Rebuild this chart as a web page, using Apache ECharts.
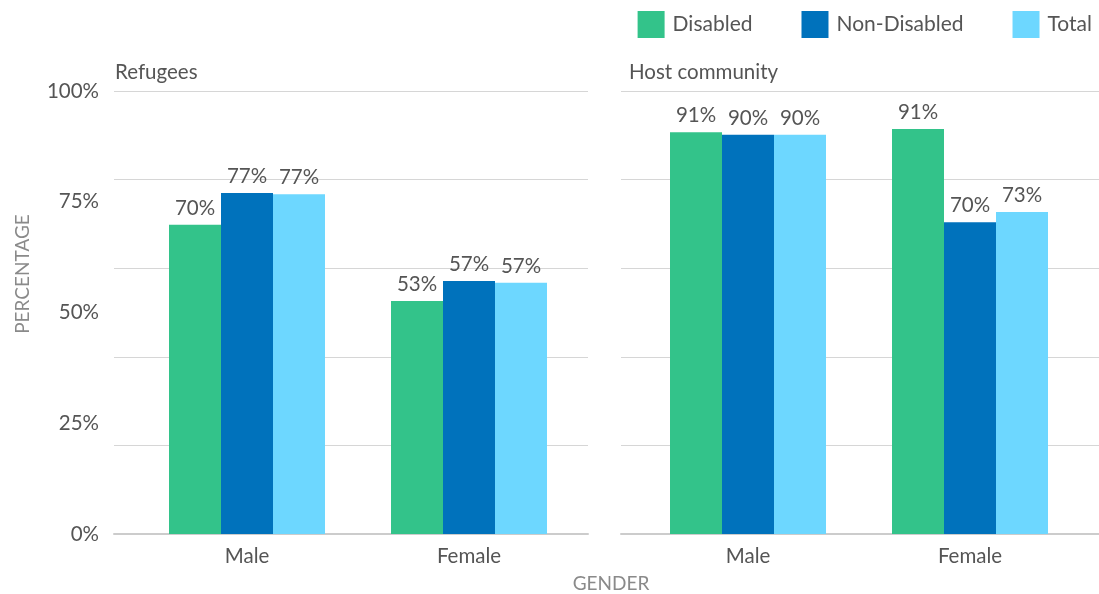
<!DOCTYPE html>
<html>
<head>
<meta charset="utf-8">
<script src="https://cdn.jsdelivr.net/npm/echarts@6/dist/echarts.min.js"></script>
<style>
  html, body { margin: 0; padding: 0; background: #fff; }
  #chart { width: 1099px; height: 594px; }
</style>
</head>
<body>
<div id="chart"></div>
<script>
// Share of people by gender and disability status, two population groups
const categories = ['Male', 'Female'];
const seriesNames = ['Disabled', 'Non-Disabled', 'Total'];
const refugeesDisabled = [69.8, 52.6];
const refugeesNonDisabled = [77.0, 57.1];
const refugeesTotal = [76.7, 56.7];
const hostDisabled = [90.7, 91.4];
const hostNonDisabled = [90.1, 70.4];
const hostTotal = [90.1, 72.7];
const panelTitles = ['Refugees', 'Host community'];
const yLabelStep = 25;
const gridStep = 20;

const colors = ['#33C38A', '#0072BC', '#6DD7FF'];
const FONT = 'Lato, "Noto Sans", sans-serif';
const TEXT = '#555555';
const FS = 20.5;

const chart = echarts.init(document.getElementById('chart'), null, { renderer: 'canvas' });

const plotTop = 91, plotBottom = 60;

function bar(name, data, xi, yi, color) {
  return {
    type: 'bar', name, data, xAxisIndex: xi, yAxisIndex: yi,
    barWidth: 52, barGap: '0%',
    itemStyle: { color },
    label: {
      show: true, position: 'top', distance: 6,
      formatter: p => Math.round(p.value) + '%',
      color: TEXT, fontFamily: FONT, fontSize: FS
    }
  };
}

const hiddenCat = gi => ({
  type: 'category', gridIndex: gi, data: categories,
  axisLabel: { show: false }, axisTick: { show: false },
  axisLine: { show: true, lineStyle: { color: '#cccccc', width: 2 } },
  splitLine: { show: false }
});
const barCat = gi => ({
  type: 'category', gridIndex: gi, data: categories,
  axisTick: { show: false }, axisLine: { show: false },
  axisLabel: { color: TEXT, fontFamily: FONT, fontSize: FS, margin: 12 }
});
const splitY = gi => ({
  type: 'value', gridIndex: gi, min: 0, max: 100, interval: gridStep, position: 'left',
  axisLabel: { show: false }, axisLine: { show: false }, axisTick: { show: false },
  splitLine: { show: true, lineStyle: { color: '#d6d6d6', width: 1 } }
});
const hiddenY = gi => ({ type: 'value', gridIndex: gi, min: 0, max: 100, show: false });

const option = {
  backgroundColor: '#ffffff',
  animation: false,
  textStyle: { fontFamily: FONT },
  legend: {
    data: seriesNames,
    right: 2, top: 6,
    itemWidth: 27, itemHeight: 27, itemGap: 49,
    icon: 'rect',
    textStyle: { color: TEXT, fontFamily: FONT, fontSize: 21, padding: [0, 0, 0, 3] }
  },
  title: [
    { text: panelTitles[0], left: 110, top: 57, textStyle: { color: TEXT, fontFamily: FONT, fontSize: FS, fontWeight: 'normal' } },
    { text: panelTitles[1], left: 624, top: 57, textStyle: { color: TEXT, fontFamily: FONT, fontSize: FS, fontWeight: 'normal' } }
  ],
  graphic: [
    {
      type: 'text', x: 611, y: 584,
      style: { text: 'GENDER', fill: '#8a8a8a', font: '19px ' + FONT, align: 'center', verticalAlign: 'middle' }
    },
    {
      type: 'text', x: 23, y: 274, rotation: Math.PI / 2,
      style: { text: 'PERCENTAGE', fill: '#8a8a8a', font: '19px ' + FONT, align: 'center', verticalAlign: 'middle' }
    }
  ],
  grid: [
    { left: 114, width: 474, top: plotTop, bottom: plotBottom },
    { left: 136, width: 444, top: plotTop, bottom: plotBottom },
    { left: 621, width: 478, top: plotTop, bottom: plotBottom },
    { left: 637, width: 444, top: plotTop, bottom: plotBottom }
  ],
  xAxis: [hiddenCat(0), barCat(1), hiddenCat(2), barCat(3)],
  yAxis: [
    splitY(0),
    {
      type: 'value', gridIndex: 0, min: 0, max: 100, interval: yLabelStep, position: 'left',
      axisLine: { show: false }, axisTick: { show: false }, splitLine: { show: false },
      axisLabel: { color: TEXT, fontFamily: FONT, fontSize: FS, margin: 15, formatter: v => v + '%' }
    },
    hiddenY(1),
    splitY(2),
    hiddenY(3)
  ],
  series: [
    bar(seriesNames[0], refugeesDisabled, 1, 2, colors[0]),
    bar(seriesNames[1], refugeesNonDisabled, 1, 2, colors[1]),
    bar(seriesNames[2], refugeesTotal, 1, 2, colors[2]),
    bar(seriesNames[0], hostDisabled, 3, 4, colors[0]),
    bar(seriesNames[1], hostNonDisabled, 3, 4, colors[1]),
    bar(seriesNames[2], hostTotal, 3, 4, colors[2])
  ]
};

chart.setOption(option);
</script>
</body>
</html>
